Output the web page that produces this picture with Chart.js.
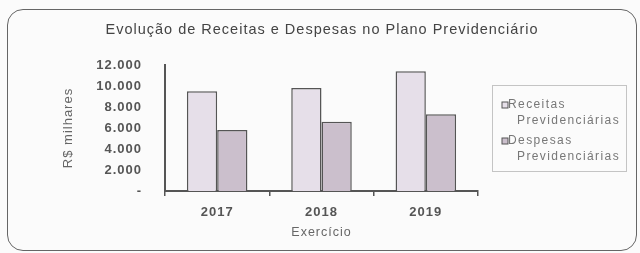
<!DOCTYPE html>
<html>
<head>
<meta charset="utf-8">
<script src="https://cdn.jsdelivr.net/npm/chart.js@4.4.0/dist/chart.umd.min.js"></script>
<style>
    html, body { margin: 0; padding: 0; background: #fbfbfb; }
    #wrap { position: relative; width: 640px; height: 253px; overflow: hidden; }
    #frame {
        position: absolute; left: 7px; top: 9px; width: 630px; height: 242px;
        border: 1.5px solid #666; border-radius: 16px; box-sizing: border-box;
    }
    canvas { position: absolute; left: 0; top: 0; }
</style>
</head>
<body>
<div id="wrap">
    <div id="frame"></div>
    <canvas id="chart" width="640" height="253"></canvas>
</div>
<script>
// Data (R$ milhares)
const years = ['2017', '2018', '2019'];
const receitas = [9500, 9800, 11400];
const despesas = [5800, 6600, 7300];
const yTickValues = [0, 2000, 4000, 6000, 8000, 10000, 12000];

const TEXT = '#555';
const FONT = "'Liberation Sans', Arial, sans-serif";

// thousands with a dot, zero shown as a dash
function formatTick(v) {
    if (v === 0) return '-';
    return String(v).replace(/\B(?=(\d{3})+(?!\d))/g, '.');
}

// the scan is a bit wide, so spread the letters
const spacingPlugin = {
    id: 'spacing',
    beforeUpdate(chart) { chart.ctx.letterSpacing = '1px'; },
    beforeDraw(chart) { chart.ctx.letterSpacing = '1px'; }
};

// boxed legend on the right, labels wrapped on two lines
const boxLegend = {
    id: 'boxLegend',
    afterDraw(chart) {
        const ctx = chart.ctx;
        ctx.save();
        ctx.strokeStyle = '#c4c4c4';
        ctx.lineWidth = 1;
        ctx.strokeRect(492.5, 85.5, 134, 86);

        ctx.font = '12px ' + FONT;
        ctx.letterSpacing = '1.4px';
        ctx.textBaseline = 'middle';
        chart.data.datasets.forEach((ds, i) => {
            const y = 105 + i * 36;
            ctx.fillStyle = ds.backgroundColor;
            ctx.fillRect(502, y - 3, 6, 6);
            ctx.strokeStyle = '#555';
            ctx.strokeRect(502, y - 3, 6, 6);
            const words = ds.label.split(' ');
            ctx.fillStyle = '#777';
            ctx.fillText(words[0], 508, y);
            ctx.fillText(words.slice(1).join(' '), 517, y + 16);
        });
        ctx.restore();
    }
};

new Chart(document.getElementById('chart'), {
    type: 'bar',
    data: {
        labels: years,
        datasets: [
            {
                label: 'Receitas Previdenciárias',
                data: receitas,
                backgroundColor: '#e6dfe9',
                borderColor: '#555',
                borderWidth: 1.5,
                categoryPercentage: 0.58,
                barPercentage: 1.0
            },
            {
                label: 'Despesas Previdenciárias',
                data: despesas,
                backgroundColor: '#cbbfcc',
                borderColor: '#555',
                borderWidth: 1.5,
                categoryPercentage: 0.58,
                barPercentage: 1.0
            }
        ]
    },
    options: {
        responsive: false,
        animation: false,
        devicePixelRatio: 1,
        layout: { padding: { left: 4, right: 0, top: 0, bottom: 0 } },
        plugins: {
            legend: { display: false },
            tooltip: { enabled: false },
            title: {
                display: true,
                text: 'Evolução de Receitas e Despesas no Plano Previdenciário',
                color: '#444',
                font: { family: FONT, size: 14.5, weight: 'normal' },
                padding: { top: 21, bottom: 26.6 }
            }
        },
        scales: {
            x: {
                grid: {
                    display: true, drawOnChartArea: false, drawTicks: true,
                    tickLength: 5, offset: true, color: TEXT, lineWidth: 1.5
                },
                border: { display: true, color: TEXT, width: 2 },
                ticks: { color: TEXT, padding: 9, font: { family: FONT, size: 13, weight: 'bold' } },
                title: {
                    display: true, text: 'Exercício', color: '#666',
                    font: { family: FONT, size: 12.5 }, padding: { top: 0, bottom: 13 }
                },
                afterFit(scale) { scale.height = 62; }
            },
            y: {
                min: 0,
                max: 12000,
                afterBuildTicks(scale) { scale.ticks = yTickValues.map(v => ({ value: v })); },
                grid: { display: false, drawTicks: false, tickLength: 0 },
                border: { display: true, color: TEXT, width: 2 },
                ticks: {
                    color: TEXT, padding: 23,
                    font: { family: FONT, size: 13, weight: 'bold' },
                    callback: v => formatTick(v)
                },
                title: {
                    display: true, text: 'R$ milhares', color: '#666',
                    font: { family: FONT, size: 13 }, padding: { top: 57, bottom: 0 }
                },
                afterFit(scale) { scale.width = 161; }
            },
            // empty axis that keeps the room for the legend on the right
            legendRoom: {
                axis: 'y',
                position: 'right',
                display: true,
                grid: { display: false, drawTicks: false },
                border: { display: false },
                ticks: { display: false },
                afterFit(scale) { scale.width = 162; }
            }
        }
    },
    plugins: [spacingPlugin, boxLegend]
});
</script>
</body>
</html>
